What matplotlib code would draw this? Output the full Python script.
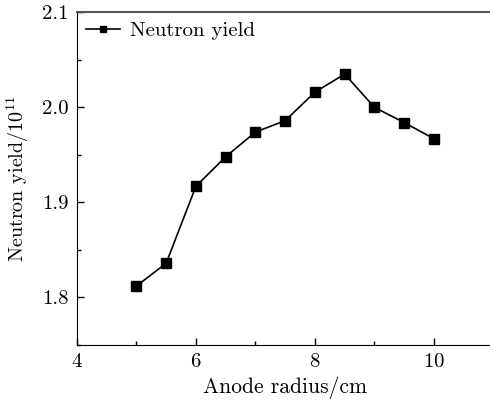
import matplotlib
matplotlib.use('Agg')
import matplotlib.pyplot as plt
from matplotlib.ticker import MultipleLocator

# anode radius (cm) and neutron yield (units of 1e11)
radius = [5.0, 5.5, 6.0, 6.5, 7.0, 7.5, 8.0, 8.5, 9.0, 9.5, 10.0]
yield_1e11 = [1.812, 1.836, 1.917, 1.948, 1.974, 1.986, 2.016, 2.035, 2.000, 1.984, 1.967]

plt.rcParams['font.family'] = 'cmr10'
plt.rcParams['mathtext.fontset'] = 'cm'
plt.rcParams['axes.formatter.use_mathtext'] = True
plt.rcParams['font.size'] = 15

fig = plt.figure(figsize=(4.9, 4.03), dpi=100)
ax = fig.add_axes([0.157, 0.144, 0.85, 0.8255])

ax.plot(radius, yield_1e11, color='black', lw=1.2, marker='s', ms=7.5,
        label='Neutron yield')

ax.set_xlim(4, 11)
ax.set_ylim(1.75, 2.1)
ax.xaxis.set_major_locator(MultipleLocator(2))
ax.xaxis.set_minor_locator(MultipleLocator(1))
ax.yaxis.set_major_locator(MultipleLocator(0.1))
ax.yaxis.set_minor_locator(MultipleLocator(0.05))
ax.tick_params(which='both', direction='in', top=False, right=False)
ax.tick_params(which='major', length=5, width=1, labelsize=15, pad=6)
ax.tick_params(which='minor', length=3, width=1)
ax.yaxis.set_major_formatter(plt.FormatStrFormatter('%.1f'))

ax.spines['right'].set_visible(False)
ax.spines['top'].set_color('#555555')
ax.spines['top'].set_linewidth(1.5)

ax.set_xlabel('Anode radius/cm', fontsize=15.5, labelpad=4)
ax.set_ylabel(r'Neutron yield/$10^{11}$', fontsize=14.5, labelpad=8)

ax.legend(loc='upper left', frameon=False, handlelength=1.6, borderaxespad=0.05,
          handletextpad=0.5, fontsize=15, markerscale=0.65)

fig.savefig('out.png', dpi=100)
